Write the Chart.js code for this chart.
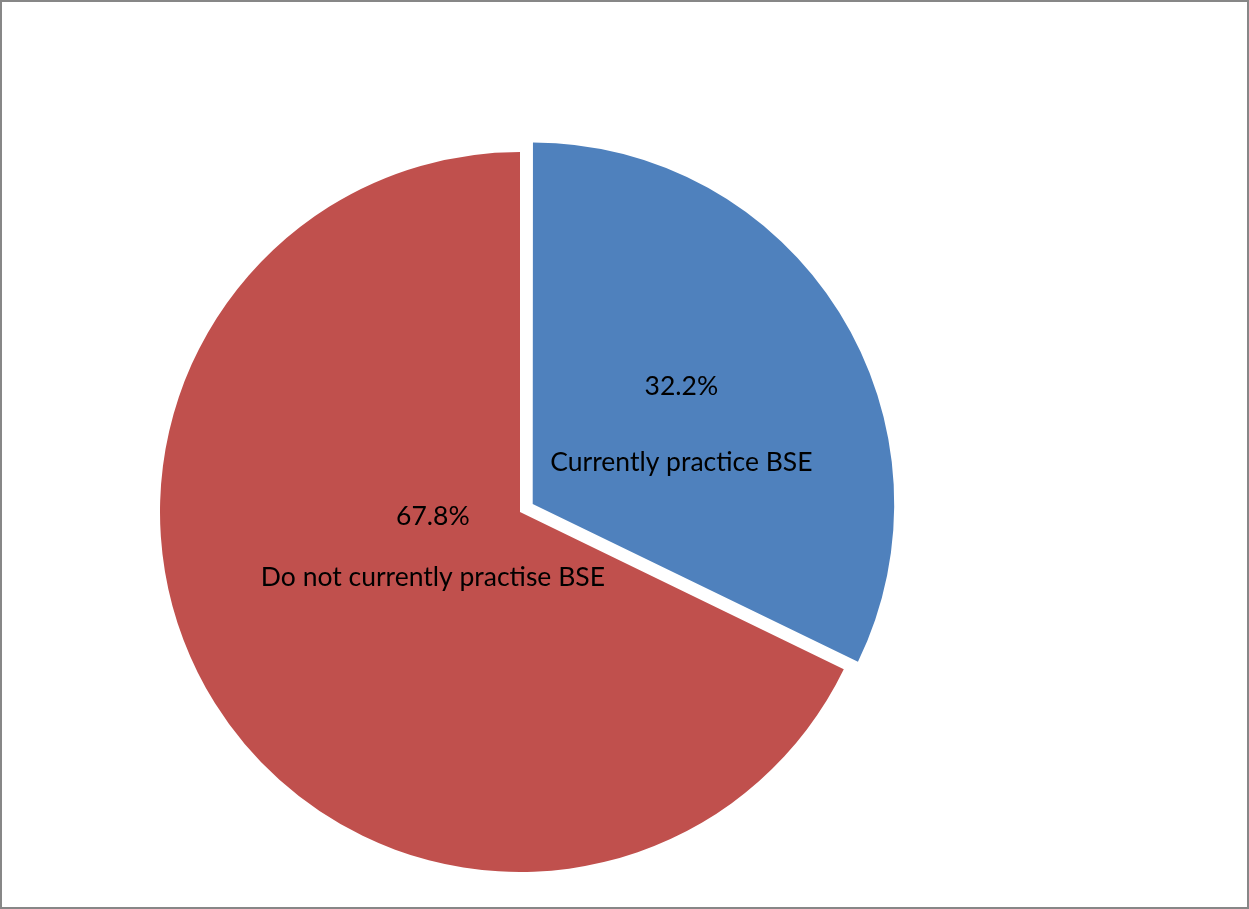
<!DOCTYPE html>
<html>
<head>
<meta charset="utf-8">
<script src="https://cdn.jsdelivr.net/npm/chart.js@4.4.1/dist/chart.umd.min.js"></script>
<style>
  html, body { margin: 0; padding: 0; background: #fff; }
  #wrap { width: 1249px; height: 909px; position: relative; }
</style>
</head>
<body>
<div id="wrap"><canvas id="myChart" width="1249" height="909"></canvas></div>
<script>
// BSE practice split
var categories = ['Currently practice BSE', 'Do not currently practise BSE'];
var shares = [32.2, 67.8];
var sliceColors = ['#4f81bd', '#c0504d'];
var sliceOffsets = [60, 0];   // v4 divides arc offset by 4 -> 15px pull-out

// label placement: fraction of radius along the bisector, angle nudge (deg), gap between lines
var labelPlace = [
  { frac: 0.468, turn: 4, gap: 76 },
  { frac: 0.261, turn: 10, gap: 61 }
];

var frame = {
  id: 'frame',
  beforeDraw: function(chart) {
    var c = chart.ctx;
    c.save();
    c.fillStyle = '#fff';
    c.fillRect(0, 0, chart.width, chart.height);
    c.strokeStyle = '#878787';
    c.lineWidth = 2;
    c.strokeRect(1, 1, chart.width - 2, chart.height - 2);
    c.restore();
  }
};

var sliceLabels = {
  id: 'sliceLabels',
  afterDatasetsDraw: function(chart) {
    var c = chart.ctx;
    var arcs = chart.getDatasetMeta(0).data;
    c.save();
    c.fillStyle = '#000';
    c.font = '26.5px Lato';
    c.textAlign = 'center';
    c.textBaseline = 'middle';
    arcs.forEach(function(arc, i) {
      var p = arc.getProps(['x', 'y', 'startAngle', 'endAngle', 'outerRadius'], true);
      var mid = (p.startAngle + p.endAngle) / 2;
      var pull = sliceOffsets[i] / 4;
      var cx = p.x + Math.cos(mid) * pull;
      var cy = p.y + Math.sin(mid) * pull;
      var a = mid + labelPlace[i].turn * Math.PI / 180;
      var r = p.outerRadius * labelPlace[i].frac;
      var lx = cx + Math.cos(a) * r;
      var ly = cy + Math.sin(a) * r;
      var g = labelPlace[i].gap / 2;
      c.fillText(shares[i].toFixed(1) + '%', lx, ly - g);
      c.fillText(categories[i], lx, ly + g);
    });
    c.restore();
  }
};

var ctx = document.getElementById('myChart').getContext('2d');
var myChart = new Chart(ctx, {
  type: 'pie',
  data: {
    labels: categories,
    datasets: [{
      data: shares,
      backgroundColor: sliceColors,
      borderWidth: 0,
      offset: sliceOffsets
    }]
  },
  options: {
    responsive: false,
    animation: false,
    radius: 360,
    layout: { padding: { left: 0, right: 209, top: 115, bottom: 0 } },
    plugins: {
      legend: { display: false },
      tooltip: { enabled: false }
    }
  },
  plugins: [frame, sliceLabels]
});
</script>
</body>
</html>
